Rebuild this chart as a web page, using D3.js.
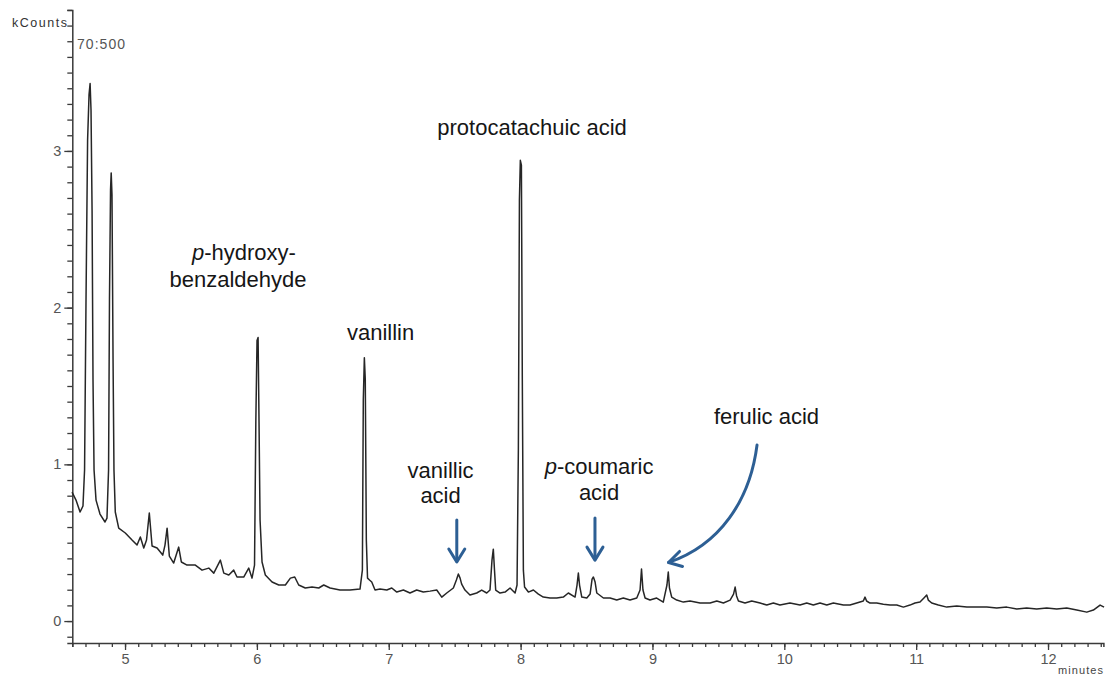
<!DOCTYPE html>
<html><head><meta charset="utf-8">
<script src="https://cdn.jsdelivr.net/npm/d3@7"></script>
<style>
body{margin:0;background:#fff;}
svg{display:block;font-family:"Liberation Sans",Arial,sans-serif;}
</style>
</head><body>
<svg id="chart" width="1105" height="677"></svg>
<script>
// ---- data ----
const timeMin = [4.598,4.628,4.659,4.681,4.693,4.704,4.716,4.727,4.735,4.742,4.750,4.757,4.765,4.780,4.810,4.848,4.863,4.875,4.882,4.890,4.895,4.901,4.909,4.916,4.926,4.952,5.002,5.053,5.091,5.116,5.142,5.163,5.184,5.205,5.243,5.286,5.303,5.319,5.336,5.369,5.407,5.427,5.470,5.533,5.584,5.635,5.673,5.723,5.749,5.787,5.824,5.849,5.900,5.938,5.963,5.982,5.992,6.001,6.009,6.016,6.024,6.039,6.064,6.115,6.166,6.216,6.254,6.287,6.317,6.367,6.418,6.469,6.507,6.555,6.630,6.706,6.782,6.800,6.807,6.815,6.822,6.830,6.839,6.854,6.871,6.896,6.934,6.985,7.023,7.061,7.111,7.161,7.212,7.262,7.313,7.364,7.402,7.440,7.490,7.513,7.528,7.541,7.553,7.578,7.616,7.667,7.705,7.743,7.768,7.783,7.793,7.802,7.811,7.844,7.882,7.920,7.958,7.973,7.983,7.991,7.998,8.006,8.013,8.021,8.030,8.059,8.097,8.135,8.172,8.223,8.274,8.324,8.362,8.413,8.428,8.438,8.447,8.464,8.502,8.527,8.542,8.552,8.565,8.578,8.628,8.679,8.729,8.779,8.830,8.881,8.906,8.917,8.928,8.944,8.981,9.032,9.082,9.110,9.120,9.129,9.146,9.184,9.234,9.285,9.361,9.437,9.488,9.538,9.589,9.615,9.627,9.638,9.652,9.702,9.753,9.816,9.867,9.917,9.967,10.043,10.119,10.170,10.220,10.271,10.322,10.372,10.448,10.498,10.549,10.599,10.612,10.624,10.650,10.701,10.751,10.802,10.853,10.903,10.953,10.991,11.029,11.059,11.080,11.092,11.118,11.168,11.232,11.308,11.384,11.460,11.536,11.611,11.687,11.763,11.838,11.914,11.990,12.066,12.142,12.218,12.294,12.344,12.395,12.425];
const kCounts = [0.823,0.772,0.696,0.734,0.964,2.05,3.07,3.36,3.43,3.26,2.62,1.54,0.964,0.772,0.683,0.632,0.657,0.964,2.05,2.75,2.86,2.72,1.67,0.964,0.696,0.593,0.562,0.517,0.485,0.536,0.466,0.517,0.689,0.479,0.466,0.421,0.485,0.593,0.415,0.370,0.472,0.377,0.357,0.357,0.325,0.338,0.306,0.389,0.306,0.294,0.325,0.281,0.281,0.338,0.274,0.357,1.28,1.79,1.81,1.28,0.645,0.377,0.294,0.249,0.230,0.230,0.274,0.281,0.230,0.211,0.217,0.211,0.230,0.211,0.198,0.198,0.204,0.325,1.41,1.68,1.54,0.517,0.274,0.262,0.249,0.198,0.204,0.198,0.211,0.185,0.198,0.179,0.198,0.185,0.191,0.198,0.153,0.179,0.211,0.262,0.300,0.274,0.236,0.198,0.166,0.179,0.198,0.179,0.198,0.389,0.459,0.325,0.198,0.179,0.185,0.211,0.179,0.230,1.09,2.69,2.94,2.91,1.54,0.325,0.217,0.185,0.198,0.172,0.153,0.147,0.147,0.153,0.179,0.153,0.230,0.306,0.230,0.153,0.147,0.172,0.268,0.281,0.249,0.179,0.147,0.147,0.134,0.147,0.134,0.147,0.198,0.332,0.198,0.147,0.134,0.147,0.121,0.230,0.313,0.211,0.153,0.134,0.121,0.128,0.115,0.115,0.128,0.115,0.134,0.172,0.217,0.160,0.128,0.115,0.128,0.115,0.102,0.115,0.102,0.115,0.102,0.115,0.102,0.115,0.102,0.115,0.102,0.102,0.115,0.128,0.153,0.128,0.115,0.115,0.108,0.102,0.102,0.089,0.102,0.115,0.121,0.147,0.166,0.134,0.115,0.102,0.089,0.096,0.089,0.089,0.089,0.083,0.089,0.077,0.083,0.077,0.083,0.077,0.083,0.070,0.057,0.070,0.102,0.089];
const xTickLabels = [5,6,7,8,9,10,11,12];
const yTickLabels = [0,1,2,3];
const yAxisTitle = "kCounts";
const xAxisTitle = "minutes";
const scanLabel = "70:500";
const peakNames = ["protocatachuic acid", "vanillin", "ferulic acid"];
const twoLineNames = [["p","-hydroxy-","benzaldehyde"],["","vanillic","acid"],["p","-coumaric","acid"]];

// ---- layout ----
const svg = d3.select("#chart");
const x = d3.scaleLinear().domain([4.6, 12.42]).range([72.3, 1103.4]);
const y = d3.scaleLinear().domain([-0.14, 3.9]).range([643, 9.9]);
const axisColor = "#3a3a3a", textColor = "#555";

// y axis
const yMinor = d3.range(-1, 40).map(i => i / 10);
const yAxis = d3.axisLeft(y).tickValues(yMinor).tickSize(5).tickFormat("");
svg.append("g").attr("transform", `translate(${x(4.6)},0)`).call(yAxis)
  .call(g => g.selectAll("line").attr("stroke", axisColor).attr("stroke-width", 1.3))
  .call(g => g.select(".domain").attr("stroke", axisColor).attr("stroke-width", 1.5));
const yMajor = d3.axisLeft(y).tickValues(yTickLabels).tickSize(8).tickPadding(3).tickFormat(d3.format("d"));
svg.append("g").attr("transform", `translate(${x(4.6)},0)`).call(yMajor)
  .call(g => g.select(".domain").remove())
  .call(g => g.selectAll("line").attr("stroke", axisColor).attr("stroke-width", 1.3))
  .call(g => g.selectAll("text").attr("fill", textColor).attr("font-size", 14.5)
    .attr("font-family", "Liberation Sans, Arial, sans-serif"));

// x axis
const xMinor = d3.range(46, 125).map(i => i / 10);
const xAxis = d3.axisBottom(x).tickValues(xMinor).tickSize(4).tickFormat("");
svg.append("g").attr("transform", `translate(0,${y(-0.14)})`).call(xAxis)
  .call(g => g.selectAll("line").attr("stroke", axisColor).attr("stroke-width", 1.3))
  .call(g => g.select(".domain").attr("stroke", axisColor).attr("stroke-width", 1.5));
const xMajor = d3.axisBottom(x).tickValues(xTickLabels).tickSize(7).tickPadding(4).tickFormat(d3.format("d"));
svg.append("g").attr("transform", `translate(0,${y(-0.14)})`).call(xMajor)
  .call(g => g.select(".domain").remove())
  .call(g => g.selectAll("line").attr("stroke", axisColor).attr("stroke-width", 1.3))
  .call(g => g.selectAll("text").attr("fill", textColor).attr("font-size", 14.5)
    .attr("font-family", "Liberation Sans, Arial, sans-serif"));

// axis titles
svg.append("text").attr("x", 12).attr("y", 27).attr("font-size", 12.5)
  .attr("fill", "#333").attr("textLength", 55).text(yAxisTitle);
svg.append("text").attr("x", 1058).attr("y", 674).attr("font-size", 11)
  .attr("fill", "#444").attr("textLength", 45).text(xAxisTitle);
svg.append("text").attr("x", 77).attr("y", 49).attr("font-size", 14)
  .attr("fill", textColor).attr("textLength", 48).text(scanLabel);

// chromatogram trace
const pts = timeMin.map((t, i) => [t, kCounts[i]]);
const line = d3.line().x(d => x(d[0])).y(d => y(d[1])).curve(d3.curveLinear);
svg.append("path").datum(pts).attr("d", line)
  .attr("fill", "none").attr("stroke", "#262626").attr("stroke-width", 1.5)
  .attr("stroke-linejoin", "round");

// annotations
const fs = 22;
const ann = svg.append("g").attr("fill", "#161616").attr("font-size", fs).attr("text-anchor", "middle");
const singlePos = [[8.087, 3.10], [6.938, 1.793], [9.865, 1.257]];
peakNames.forEach((n, i) => {
  ann.append("text").attr("x", x(singlePos[i][0])).attr("y", y(singlePos[i][1])).text(n);
});
const twoPos = [[5.902, 2.304, 5.857, 2.131], [7.393, 0.913, 7.393, 0.753], [8.595, 0.938, 8.595, 0.772]];
twoLineNames.forEach((n, i) => {
  const p = twoPos[i];
  const t1 = ann.append("text").attr("x", x(p[0])).attr("y", y(p[1]));
  if (n[0]) t1.append("tspan").attr("font-style", "italic").text(n[0]);
  t1.append("tspan").text(n[1]);
  ann.append("text").attr("x", x(p[2])).attr("y", y(p[3])).text(n[2]);
});

// arrows
const arrowColor = "#2d5f94";
const arrows = svg.append("g").attr("stroke", arrowColor).attr("stroke-width", 3)
  .attr("fill", "none").attr("stroke-linecap", "round").attr("stroke-linejoin", "round");
const downArrows = [[7.516, 0.645, 0.377], [8.564, 0.657, 0.389]];
downArrows.forEach(a => {
  const ax = x(a[0]), y0 = y(a[1]), y1 = y(a[2]);
  arrows.append("line").attr("x1", ax).attr("x2", ax).attr("y1", y0).attr("y2", y1 - 1);
  arrows.append("path").attr("d", `M${ax - 8},${y1 - 13} L${ax},${y1} L${ax + 8},${y1 - 13}`);
});
// curved arrow to ferulic acid
const cStart = [9.793, 1.123], c1 = [9.740, 0.772], c2 = [9.512, 0.485], cEnd = [9.122, 0.374];
const ex = x(cEnd[0]), ey = y(cEnd[1]);
arrows.append("path").attr("d",
  `M${x(cStart[0])},${y(cStart[1])} C${x(c1[0])},${y(c1[1])} ${x(c2[0])},${y(c2[1])} ${ex},${ey}`);
arrows.append("path").attr("d", `M${ex + 11},${ey - 11} L${ex},${ey} L${ex + 14},${ey + 4}`);
</script>
</body></html>
